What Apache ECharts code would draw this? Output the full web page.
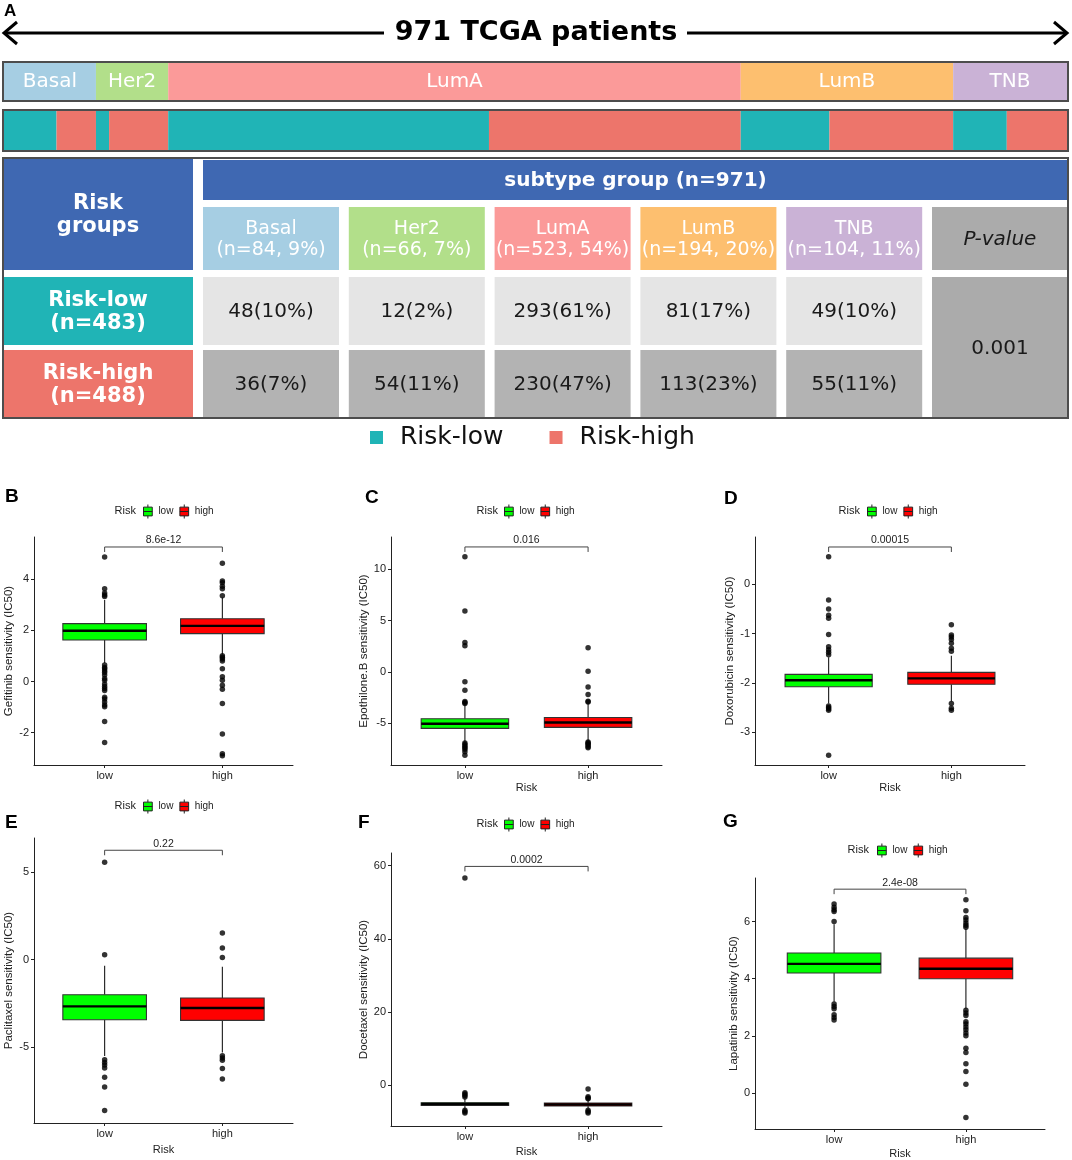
<!DOCTYPE html>
<html><head><meta charset="utf-8">
<script src="https://cdn.jsdelivr.net/npm/echarts@6/dist/echarts.min.js"></script>
<style>html,body{margin:0;padding:0;background:#fff}#c{width:1072px;height:1160px}</style>
</head><body><div id="c"></div>
<script>
// ================= DATA =================
const totalPatients = 971;
const subtypes = ['Basal', 'Her2', 'LumA', 'LumB', 'TNB'];
const subtypeCounts = [84, 66, 523, 194, 104];
const riskLowCounts = [48, 12, 293, 81, 49];
const riskHighCounts = [36, 54, 230, 113, 55];
const tablePValue = '0.001';

const riskCategories = ['low', 'high'];
const drugNames = ['Gefitinib', 'Epothilone.B', 'Doxorubicin', 'Paclitaxel', 'Docetaxel', 'Lapatinib'];
const pValues = ['8.6e-12', '0.016', '0.00015', '0.22', '0.0002', '2.4e-08'];
const bracketLevels = [5.25, 12.18, 0.757, 6.25, 59.8, 7.13];

// box stats: [lower whisker, Q1, median, Q3, upper whisker]
const gefitinibLowBox = [0.72, 1.62, 1.98, 2.26, 3.18];
const gefitinibHighBox = [1.05, 1.87, 2.17, 2.45, 3.28];
const gefitinibLowOutliers = [4.86, 3.62, 3.45, 3.38, 3.32, 0.64, 0.55, 0.5, 0.42, 0.35, 0.25, 0.12, 0.05, -0.1, -0.2, -0.27, -0.35, -0.62, -0.68, -0.8, -0.92, -0.99, -1.56, -2.38];
const gefitinibHighOutliers = [4.62, 3.92, 3.85, 3.72, 3.62, 3.35, 1.0, 0.95, 0.88, 0.8, 0.5, 0.18, 0.05, -0.15, -0.3, -0.86, -2.05, -2.82, -2.9];

const epothiloneLowBox = [-6.85, -5.52, -5.06, -4.58, -3.2];
const epothiloneHighBox = [-6.75, -5.42, -4.94, -4.45, -3.1];
const epothiloneLowOutliers = [11.23, 5.94, 2.86, 2.53, -0.97, -1.79, -2.9, -3.0, -3.1, -6.95, -7.1, -7.25, -7.4, -7.55, -7.8, -8.15];
const epothiloneHighOutliers = [2.34, 0.06, -1.49, -2.21, -2.86, -2.95, -6.85, -6.95, -7.05, -7.15, -7.3, -7.4];

const doxorubicinLowBox = [-2.42, -2.08, -1.95, -1.83, -1.48];
const doxorubicinHighBox = [-2.38, -2.03, -1.91, -1.79, -1.45];
const doxorubicinLowOutliers = [0.56, -0.32, -0.5, -0.63, -0.69, -1.02, -1.27, -1.33, -1.38, -1.43, -2.47, -2.5, -2.53, -2.56, -3.47];
const doxorubicinHighOutliers = [-0.82, -1.03, -1.07, -1.12, -1.2, -1.3, -1.36, -2.42, -2.52, -2.56];

const paclitaxelLowBox = [-5.5, -3.43, -2.67, -2.0, -0.35];
const paclitaxelHighBox = [-5.3, -3.47, -2.76, -2.19, -0.4];
const paclitaxelLowOutliers = [5.56, 0.28, -5.71, -5.87, -6.02, -6.19, -6.72, -7.28, -8.61];
const paclitaxelHighOutliers = [1.53, 0.67, 0.12, -5.49, -5.62, -5.75, -6.21, -6.82];

const docetaxelLowBox = [-6.6, -5.6, -5.2, -4.85, -3.7];
const docetaxelHighBox = [-6.5, -5.75, -5.35, -4.95, -3.9];
const docetaxelLowOutliers = [56.6, -2.1, -2.5, -2.9, -3.3, -6.9, -7.3, -7.7];
const docetaxelHighOutliers = [-1.1, -3.2, -3.6, -3.8, -6.9, -7.3, -7.7];

const lapatinibLowBox = [3.2, 4.2, 4.52, 4.9, 5.9];
const lapatinibHighBox = [2.95, 4.0, 4.35, 4.72, 5.75];
const lapatinibLowOutliers = [6.61, 6.5, 6.41, 6.35, 6.0, 3.12, 3.03, 2.95, 2.74, 2.65, 2.56];
const lapatinibHighOutliers = [6.76, 6.38, 6.14, 6.05, 5.95, 5.87, 5.8, 2.9, 2.8, 2.72, 2.5, 2.42, 2.31, 2.22, 2.1, 2.01, 1.57, 1.42, 1.03, 0.76, 0.31, -0.85];

const gefitinibTicks = [-2, 0, 2, 4];
const epothiloneTicks = [-5, 0, 5, 10];
const doxorubicinTicks = [-3, -2, -1, 0];
const paclitaxelTicks = [-5, 0, 5];
const docetaxelTicks = [0, 20, 40, 60];
const lapatinibTicks = [0, 2, 4, 6];

// ================= STYLE / LAYOUT =================
const FONT_A = '"DejaVu Sans", sans-serif';
const FONT_P = '"Liberation Sans", Arial, sans-serif';
const subtypeColors = ['#A6CEE3', '#B2DF8A', '#FB9A99', '#FDBF6F', '#CAB2D6'];
const lowColor = '#20B4B6', highColor = '#ED756B', headBlue = '#3F68B2';
const boxLowColor = '#00FF00', boxHighColor = '#FF0000';
const frameColor = '#4D4D4D';
const boxIcon = 'path://M0,3L10,3L10,13L0,13Z M0,8L10,8 M5,0L5,3 M5,13L5,16';
const squareIcon = 'path://M0,0L13,0L13,13L0,13Z M25,0L25,13';

const boxPanels = [
  {letter: 'B', low: gefitinibLowBox, high: gefitinibHighBox, lowOut: gefitinibLowOutliers, highOut: gefitinibHighOutliers, ticks: gefitinibTicks,
   grid: {left: 34, top: 537, width: 259, height: 228}, y: [-3.26, 5.64], letterPos: [5, 497], legendY: 511, riskRight: 136, legendLeft: 143, xTitle: false, xGap: 17, yGap: 17},
  {letter: 'C', low: epothiloneLowBox, high: epothiloneHighBox, lowOut: epothiloneLowOutliers, highOut: epothiloneHighOutliers, ticks: epothiloneTicks,
   grid: {left: 391, top: 537, width: 271, height: 228}, y: [-9.09, 13.15], letterPos: [365, 498], legendY: 511, riskRight: 498, legendLeft: 504, xTitle: true, xGap: 17, yGap: 17},
  {letter: 'D', low: doxorubicinLowBox, high: doxorubicinHighBox, lowOut: doxorubicinLowOutliers, highOut: doxorubicinHighOutliers, ticks: doxorubicinTicks,
   grid: {left: 755, top: 537, width: 270, height: 228}, y: [-3.67, 0.96], letterPos: [724, 499], legendY: 511, riskRight: 860, legendLeft: 867, xTitle: true, xGap: 17, yGap: 18},
  {letter: 'E', low: paclitaxelLowBox, high: paclitaxelHighBox, lowOut: paclitaxelLowOutliers, highOut: paclitaxelHighOutliers, ticks: paclitaxelTicks,
   grid: {left: 34, top: 838, width: 259, height: 285}, y: [-9.33, 6.95], letterPos: [5, 823], legendY: 806, riskRight: 136, legendLeft: 143, xTitle: true, xGap: 21, yGap: 18},
  {letter: 'F', low: docetaxelLowBox, high: docetaxelHighBox, lowOut: docetaxelLowOutliers, highOut: docetaxelHighOutliers, ticks: docetaxelTicks,
   grid: {left: 391, top: 853, width: 271, height: 273}, y: [-11.23, 63.47], letterPos: [358, 823], legendY: 824, riskRight: 498, legendLeft: 504, xTitle: true, xGap: 20, yGap: 17},
  {letter: 'G', low: lapatinibLowBox, high: lapatinibHighBox, lowOut: lapatinibLowOutliers, highOut: lapatinibHighOutliers, ticks: lapatinibTicks,
   grid: {left: 755, top: 878, width: 290, height: 251}, y: [-1.25, 7.52], letterPos: [723, 822], legendY: 850, riskRight: 869, legendLeft: 877, xTitle: true, xGap: 19, yGap: 11}
];

const grids = [], xAxes = [], yAxes = [], series = [], legends = [], graphics = [];

// ---------- Panel A: subtype bar ----------
grids.push({left: 4, top: 63, width: 1063, height: 37, show: false, outerBoundsMode: 'none'});
xAxes.push({gridIndex: 0, type: 'value', min: 0, max: totalPatients, show: false});
yAxes.push({gridIndex: 0, type: 'category', data: ['subtype'], show: false});
subtypes.forEach((s, i) => series.push({
  type: 'bar', name: s, xAxisIndex: 0, yAxisIndex: 0, stack: 'sub', data: [subtypeCounts[i]],
  barWidth: '100%', itemStyle: {color: subtypeColors[i]}, silent: true,
  label: {show: true, position: 'inside', formatter: '{a}', color: '#fff', fontSize: 20, fontFamily: FONT_A}
}));

// ---------- Panel A: risk bar ----------
grids.push({left: 4, top: 111, width: 1063, height: 39, show: false, outerBoundsMode: 'none'});
xAxes.push({gridIndex: 1, type: 'value', min: 0, max: totalPatients, show: false});
yAxes.push({gridIndex: 1, type: 'category', data: ['risk'], show: false});
subtypes.forEach((s, i) => {
  series.push({type: 'bar', name: 'Risk-low', xAxisIndex: 1, yAxisIndex: 1, stack: 'risk', data: [riskLowCounts[i]], barWidth: '100%', itemStyle: {color: lowColor}, silent: true});
  series.push({type: 'bar', name: 'Risk-high', xAxisIndex: 1, yAxisIndex: 1, stack: 'risk', data: [riskHighCounts[i]], barWidth: '100%', itemStyle: {color: highColor}, silent: true});
});

// ---------- Panel A: table ----------
grids.push({left: 3, top: 158, width: 1065, height: 260, show: false, outerBoundsMode: 'none'});
xAxes.push({gridIndex: 2, type: 'value', min: 0, max: 1065, show: false});
yAxes.push({gridIndex: 2, type: 'value', min: 0, max: 260, inverse: true, show: false});
const sumLow = riskLowCounts.reduce((a, b) => a + b, 0);
const sumHigh = riskHighCounts.reduce((a, b) => a + b, 0);
const COL = k => [200 + 145.8 * k, Math.min(336 + 145.8 * k, 1065)];
const ROW = {band: [2, 42], head: [49, 112], low: [119, 187], high: [192, 260], groups: [0, 112], pval: [119, 260]};
const tableCells = [];
const cell = (x, y, fill, text, color, size, weight, style, lh) => tableCells.push({value: [x[0], x[1], y[0], y[1]], fill, text, color, size, weight: weight || 'normal', fstyle: style || 'normal', lh: lh || size + 2});
cell([0, 190], ROW.groups, headBlue, 'Risk\ngroups', '#fff', 21, 'bold', null, 23);
cell([0, 190], ROW.low, lowColor, 'Risk-low\n(n=' + sumLow + ')', '#fff', 21, 'bold', null, 23);
cell([0, 190], ROW.high, highColor, 'Risk-high\n(n=' + sumHigh + ')', '#fff', 21, 'bold', null, 23);
cell([200, 1065], ROW.band, headBlue, 'subtype group (n=' + totalPatients + ')', '#fff', 20, 'bold');
subtypes.forEach((s, k) => {
  const pct = Math.round(subtypeCounts[k] / totalPatients * 100);
  cell(COL(k), ROW.head, subtypeColors[k], s + '\n(n=' + subtypeCounts[k] + ', ' + pct + '%)', '#fff', 19, 'normal', null, 21);
  cell(COL(k), ROW.low, '#E5E5E5', riskLowCounts[k] + '(' + Math.round(riskLowCounts[k] / sumLow * 100) + '%)', '#1a1a1a', 20);
  cell(COL(k), ROW.high, '#B3B3B3', riskHighCounts[k] + '(' + Math.round(riskHighCounts[k] / sumHigh * 100) + '%)', '#1a1a1a', 20);
});
cell(COL(5), ROW.head, '#ABABAB', 'P-value', '#1a1a1a', 20, 'normal', 'italic');
cell(COL(5), ROW.pval, '#ABABAB', tablePValue, '#1a1a1a', 20);

series.push({
  type: 'custom', name: 'table', xAxisIndex: 2, yAxisIndex: 2, clip: false, silent: true,
  data: tableCells.map(c => c.value),
  renderItem: (params, api) => {
    const c = tableCells[params.dataIndex];
    const p0 = api.coord([api.value(0), api.value(2)]);
    const p1 = api.coord([api.value(1), api.value(3)]);
    return {type: 'group', children: [
      {type: 'rect', shape: {x: p0[0], y: p0[1], width: p1[0] - p0[0], height: p1[1] - p0[1]}, style: {fill: c.fill}},
      {type: 'text', x: (p0[0] + p1[0]) / 2, y: (p0[1] + p1[1]) / 2 + 1, style: {text: c.text, fill: c.color, fontSize: c.size, fontFamily: FONT_A, fontWeight: c.weight, fontStyle: c.fstyle, lineHeight: c.lh, align: 'center', verticalAlign: 'middle'}}
    ]};
  }
});

legends.push({
  data: ['Risk-low', 'Risk-high'], left: 370, top: 425, padding: 0, itemWidth: 25, itemHeight: 13, itemGap: 46, icon: squareIcon, selectedMode: false,
  textStyle: {fontSize: 25, fontFamily: FONT_A, color: '#111'}
});

// frames and title decoration
graphics.push({type: 'rect', shape: {x: 3, y: 62, width: 1065, height: 39}, style: {fill: null, stroke: frameColor, lineWidth: 2}, z: 100});
graphics.push({type: 'rect', shape: {x: 3, y: 110, width: 1065, height: 41}, style: {fill: null, stroke: frameColor, lineWidth: 2}, z: 100});
graphics.push({type: 'rect', shape: {x: 3, y: 158, width: 1065, height: 260}, style: {fill: null, stroke: frameColor, lineWidth: 2}, z: 100});
graphics.push({type: 'text', x: 4, y: 3, style: {text: 'A', fontSize: 17, fontWeight: 'bold', fontFamily: FONT_P, fill: '#000'}});
graphics.push({type: 'line', shape: {x1: 4, y1: 33, x2: 384, y2: 33}, style: {stroke: '#000', lineWidth: 3}});
graphics.push({type: 'line', shape: {x1: 687, y1: 33, x2: 1067, y2: 33}, style: {stroke: '#000', lineWidth: 3}});
graphics.push({type: 'polyline', shape: {points: [[17, 22], [4, 33], [17, 44]]}, style: {stroke: '#000', lineWidth: 3, fill: null}});
graphics.push({type: 'polyline', shape: {points: [[1054, 22], [1067, 33], [1054, 44]]}, style: {stroke: '#000', lineWidth: 3, fill: null}});
graphics.push({type: 'text', x: 536, y: 33, style: {text: totalPatients + ' TCGA patients', fontSize: 27, fontWeight: 'bold', fontFamily: FONT_A, fill: '#000', align: 'center', verticalAlign: 'middle'}});

// ---------- Box plot panels ----------
const BOX_W = 0.71;
function boxRender(params, api) {
  const x = api.value(0);
  const v = [api.value(1), api.value(2), api.value(3), api.value(4), api.value(5)];
  const pMin = api.coord([x, v[0]]), pQ1c = api.coord([x, v[1]]), pQ3c = api.coord([x, v[3]]), pMax = api.coord([x, v[4]]);
  const pL = api.coord([x - BOX_W / 2, v[3]]), pR = api.coord([x + BOX_W / 2, v[1]]);
  const mL = api.coord([x - BOX_W / 2, v[2]]), mR = api.coord([x + BOX_W / 2, v[2]]);
  const color = api.visual('color');
  return {type: 'group', children: [
    {type: 'line', shape: {x1: pMin[0], y1: pMin[1], x2: pQ1c[0], y2: pQ1c[1]}, style: {stroke: '#1a1a1a', lineWidth: 1.1}},
    {type: 'line', shape: {x1: pMax[0], y1: pMax[1], x2: pQ3c[0], y2: pQ3c[1]}, style: {stroke: '#1a1a1a', lineWidth: 1.1}},
    {type: 'rect', shape: {x: pL[0], y: pL[1], width: pR[0] - pL[0], height: pR[1] - pL[1]}, style: {fill: color, stroke: '#333', lineWidth: 1.1}},
    {type: 'line', shape: {x1: mL[0], y1: mL[1], x2: mR[0], y2: mR[1]}, style: {stroke: '#000', lineWidth: 2.4}}
  ]};
}
function bracketRender(params, api) {
  const a = api.coord([api.value(0), api.value(2)]);
  const b = api.coord([api.value(1), api.value(2)]);
  return {type: 'group', children: [
    {type: 'polyline', shape: {points: [[a[0], a[1] + 5], [a[0], a[1]], [b[0], b[1]], [b[0], b[1] + 5]]}, style: {stroke: '#444', lineWidth: 1, fill: null}},
    {type: 'text', x: (a[0] + b[0]) / 2, y: a[1] - 1, style: {text: pValues[api.value(3)], fontSize: 10.5, fontFamily: FONT_P, fill: '#222', align: 'center', verticalAlign: 'bottom'}}
  ]};
}

boxPanels.forEach((p, i) => {
  const g = 3 + i;
  grids.push(Object.assign({show: false, outerBoundsMode: 'none'}, p.grid));
  xAxes.push({
    gridIndex: g, type: 'value', min: 0.4, max: 2.6, splitLine: {show: false},
    axisLine: {show: true, onZero: false, lineStyle: {color: '#222', width: 1}},
    axisTick: {show: true, customValues: [1, 2], length: 3, lineStyle: {color: '#222'}},
    axisLabel: {customValues: [1, 2], formatter: v => riskCategories[Math.round(v) - 1], fontSize: 11, color: '#222', margin: 5, fontFamily: FONT_P},
    name: p.xTitle ? 'Risk' : '', nameLocation: 'middle', nameGap: p.xGap,
    nameTextStyle: {fontSize: 11, color: '#222', fontFamily: FONT_P}
  });
  yAxes.push({
    gridIndex: g, type: 'value', min: p.y[0], max: p.y[1], splitLine: {show: false},
    axisLine: {show: true, onZero: false, lineStyle: {color: '#222', width: 1}},
    axisTick: {show: true, customValues: p.ticks, length: 3, lineStyle: {color: '#222'}},
    axisLabel: {customValues: p.ticks, fontSize: 11, color: '#222', margin: 5, fontFamily: FONT_P},
    name: drugNames[i] + ' sensitivity (IC50)', nameLocation: 'middle', nameGap: p.yGap,
    nameTextStyle: {fontSize: 11.5, color: '#222', fontFamily: FONT_P}
  });
  series.push({type: 'custom', name: 'low', xAxisIndex: g, yAxisIndex: g, itemStyle: {color: boxLowColor}, data: [[1].concat(p.low)], renderItem: boxRender, z: 2, clip: false, silent: true});
  series.push({type: 'custom', name: 'high', xAxisIndex: g, yAxisIndex: g, itemStyle: {color: boxHighColor}, data: [[2].concat(p.high)], renderItem: boxRender, z: 2, clip: false, silent: true});
  series.push({type: 'scatter', name: 'outliers', xAxisIndex: g, yAxisIndex: g, symbolSize: 5.5, itemStyle: {color: '#000'}, z: 4, silent: true,
    data: p.lowOut.map(v => [1, v]).concat(p.highOut.map(v => [2, v]))});
  series.push({type: 'custom', name: 'bracket', xAxisIndex: g, yAxisIndex: g, data: [[1, 2, bracketLevels[i], i]], renderItem: bracketRender, z: 3, clip: false, silent: true});
  legends.push({
    data: ['low', 'high'], left: p.legendLeft, top: p.legendY - 7, padding: 0, itemWidth: 11, itemHeight: 14, itemGap: 6, icon: boxIcon, selectedMode: false,
    itemStyle: {borderColor: '#222', borderWidth: 1},
    textStyle: {fontSize: 10, color: '#222', fontFamily: FONT_P}
  });
  graphics.push({type: 'text', x: p.riskRight, y: p.legendY, style: {text: 'Risk', fontSize: 11, fontFamily: FONT_P, fill: '#222', align: 'right', verticalAlign: 'middle'}});
  graphics.push({type: 'text', x: p.letterPos[0], y: p.letterPos[1], style: {text: p.letter, fontSize: 19, fontWeight: 'bold', fontFamily: FONT_P, fill: '#000', verticalAlign: 'middle'}});
});

const chart = echarts.init(document.getElementById('c'), null, {renderer: 'canvas'});
chart.setOption({
  animation: false,
  backgroundColor: '#fff',
  grid: grids, xAxis: xAxes, yAxis: yAxes, series: series, legend: legends,
  graphic: {elements: graphics}
});
</script>
</body></html>
